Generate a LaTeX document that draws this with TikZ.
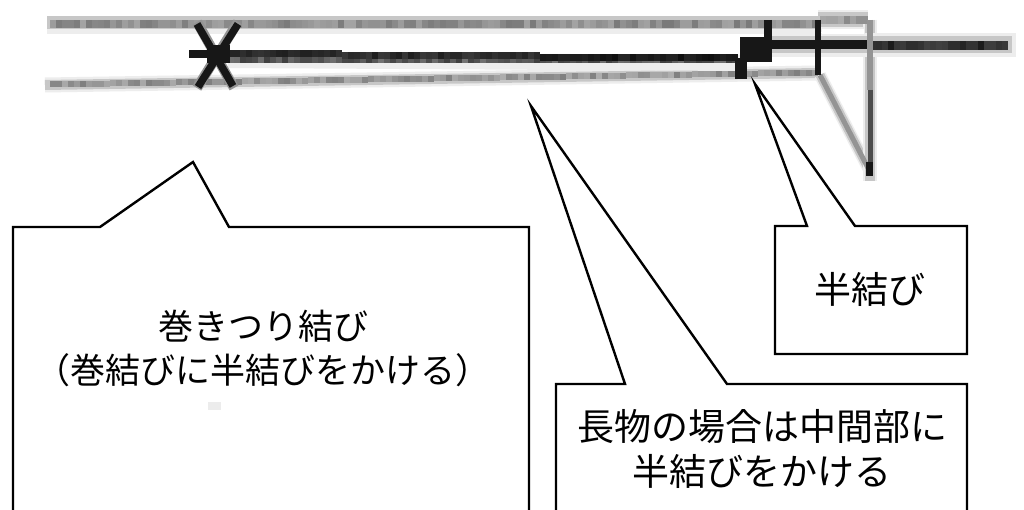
\documentclass[tikz,border=0pt]{standalone}
\usepackage{fontspec}
\newfontfamily\jp{Noto Sans CJK JP}
\definecolor{rL}{gray}{0.93}
\definecolor{rA}{gray}{0.78}
\definecolor{rB}{gray}{0.58}
\definecolor{rC}{gray}{0.30}
\definecolor{rD}{gray}{0.09}
\tikzset{
  callout/.style={draw=black,line width=2.4pt,line join=miter,miter limit=20},
  calltext/.style={font=\jp\fontsize{37}{45}\selectfont,align=center,inner sep=0pt,text=black},
  calltextsmall/.style={calltext,font=\jp\fontsize{35}{44}\selectfont},
  faint/.style={draw=rL,line width=#1,line cap=butt},
  halo/.style={draw=rA,line width=#1,line cap=butt},
  body/.style={draw=rB,line width=#1,line cap=butt},
  coreline/.style={draw=rC,line width=#1,line cap=butt},
  knot/.style={draw=rD,line width=#1,line cap=butt}
}
\pgfmathsetseed{4242}
\begin{document}
\begin{tikzpicture}[x=1pt,y=-1pt]
\useasboundingbox (0,0) rectangle (1024,510);
\fill[white] (0,0) rectangle (1024,510);
% soft halos of the ropes
\draw[faint=18pt] (47,25) -- (818,25);
\draw[halo=13pt] (47,23) -- (818,23);
\draw[faint=15pt] (45,85) -- (818,73);
\draw[halo=10pt] (45,85) -- (818,73);
\draw[faint=22pt] (818,21) -- (868,21);
\draw[halo=15pt] (818,20) -- (868,20);
\draw[faint=12pt] (820,75) -- (868,168);
\draw[halo=9pt] (820,75) -- (868,168);
\draw[faint=14pt] (870,20) -- (870,181);
\draw[halo=10pt] (870,20) -- (870,181);
\draw[faint=24pt] (770,45) -- (1016,45);
\draw[halo=17pt] (770,45) -- (1012,45);
\draw[faint=16pt] (228,60) -- (740,63);
% mottled rope bodies
\foreach \x in {50,56,...,812}{
  \pgfmathsetmacro\g{random(36,52)}
  \fill[black!\g] (\x,20) rectangle +(6.3,8);
  \pgfmathsetmacro\h{random(32,50)}
  \pgfmathsetmacro\y{85.2-0.0155*\x}
  \fill[black!\h] (\x,\y-3) rectangle +(6.3,6);
}
\foreach \x in {820,826,...,862}{
  \pgfmathsetmacro\g{random(32,50)}
  \fill[black!\g] (\x,16) rectangle +(6.3,8);
}
\fill[white] (822,29) rectangle (864,34);
% hauling line
\foreach \x in {228,234,...,735}{
  \pgfmathsetmacro\g{random(55,75)}
  \fill[black!\g] (\x,56) rectangle +(6.3,7);
}
\foreach \x in {228,234,...,735}{
  \pgfmathsetmacro\g{\x<540 ? random(78,88) : random(86,94)}
  \pgfmathsetmacro\y{\x<340 ? 50 : (\x<540 ? 52 : 54)}
  \fill[black!\g] (\x,\y) rectangle +(6.3,7);
}
\foreach \x in {870,876,...,1006}{
  \pgfmathsetmacro\g{random(72,90)}
  \fill[black!\g] (\x,41) rectangle +(6.3,9);
}
\draw[knot=9pt] (770,45) -- (870,45);
% standing parts of the frame
\draw[body=5pt] (820,75) -- (868,168);
\draw[body=6pt] (870,20) -- (870,90);
\draw[coreline=5pt] (870,90) -- (870,165);
% clove hitch at the left
\draw[body=10pt] (197,22) -- (234,88);
\draw[body=10pt] (238,22) -- (197,88);
\draw[knot=7.5pt] (197,24) -- (233,86);
\draw[knot=7.5pt] (238,24) -- (198,87);
\fill[rD] (207,45) rectangle (230,63);
\fill[rD] (189,50) rectangle (207,58);
% half hitch at the right
\fill[rD] (740,37) rectangle (772,62);
\fill[rD] (735,58) rectangle (747,79);
\draw[knot=8pt] (767.5,20) -- (767.5,40);
\draw[knot=6.5pt] (818,20) -- (818,75);
\draw[knot=7pt] (869,162) -- (869,176);
% small speck
\fill[gray!15] (208,402) rectangle (221,410);
% labels
\node[calltextsmall] (clove) at (263,348) {巻きつり結び\\（巻結びに半結びをかける）};
\node[calltext] (long) at (762,449) {長物の場合は中間部に\\半結びをかける};
\node[calltext] (half) at (870,289) {半結び};
% callout outlines
\coordinate (cloveTip) at (193,162);
\coordinate (longTip) at (531,106);
\coordinate (halfTip) at (755,84);
\draw[callout] (13,511) -- (13,227) -- (100,227) -- (cloveTip) -- (229,227) -- (529,227) -- (529,511);
\draw[callout] (556,511) -- (556,384) -- (625,384) -- (longTip) -- (727,384) -- (967,384) -- (967,511);
\draw[callout] (775,354) -- (775,226) -- (807,226) -- (halfTip) -- (855,226) -- (967,226) -- (967,354) -- cycle;
\end{tikzpicture}
\end{document}
